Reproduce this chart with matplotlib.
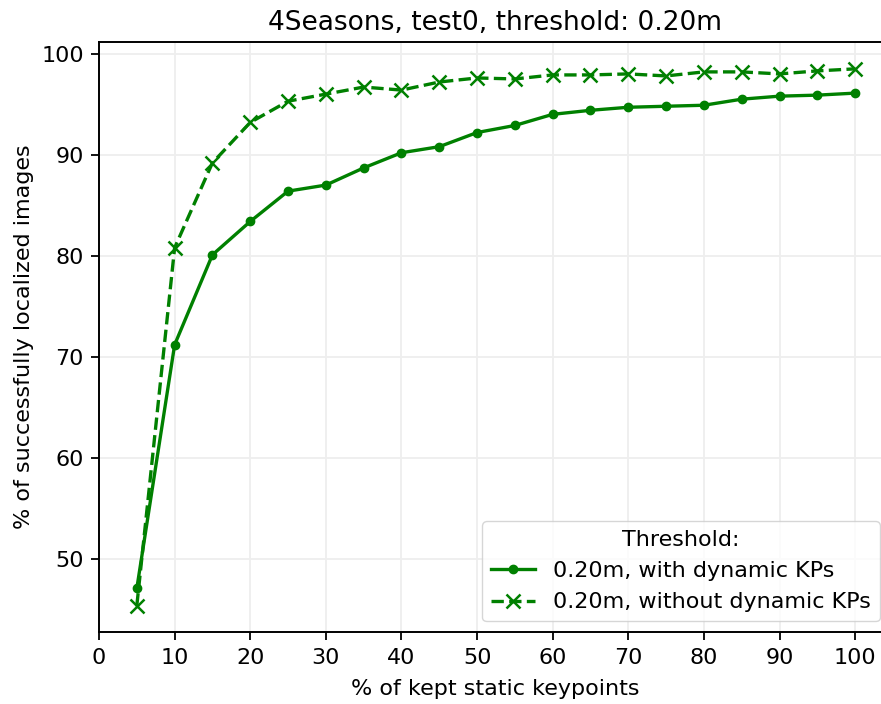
import matplotlib
matplotlib.use('Agg')
import matplotlib.pyplot as plt

# % of kept static keypoints
kept = [5, 10, 15, 20, 25, 30, 35, 40, 45, 50, 55, 60, 65, 70, 75, 80, 85, 90, 95, 100]
# % localized images, 0.20m threshold
with_dyn = [47.1, 71.2, 80.1, 83.4, 86.4, 87.0, 88.7, 90.2, 90.8, 92.2, 92.9,
            94.0, 94.4, 94.7, 94.8, 94.9, 95.5, 95.8, 95.9, 96.1]
without_dyn = [45.4, 80.8, 89.2, 93.2, 95.3, 96.0, 96.7, 96.4, 97.2, 97.6, 97.5,
               97.9, 97.9, 98.0, 97.8, 98.2, 98.2, 98.0, 98.3, 98.5]

fig = plt.figure(figsize=(8.81, 7.04), dpi=100)
ax = fig.add_axes([0.1124, 0.1018, 0.899, 0.8385])

ax.plot(kept, with_dyn, color='green', linestyle='-', marker='o', lw=2.4,
        markersize=6, label='0.20m, with dynamic KPs')
ax.plot(kept, without_dyn, color='green', linestyle='--', marker='x', lw=2.4,
        markersize=10, markeredgewidth=1.8, label='0.20m, without dynamic KPs')

ax.set_xlim(0, 104.75)
ax.set_xticks(range(0, 101, 10))
ax.grid(True, color='#eeeeee', lw=1.3)
ax.set_axisbelow(True)
ax.tick_params(labelsize=16, width=1.3, length=6, pad=5)
for s in ax.spines.values():
    s.set_linewidth(1.4)

ax.set_xlabel('% of kept static keypoints', fontsize=16, labelpad=8)
ax.set_ylabel('% of successfully localized images', fontsize=16, labelpad=5)
ax.set_title('4Seasons, test0, threshold: 0.20m', fontsize=19, pad=9)
ax.legend(title='Threshold:', loc='lower right', fontsize=16, title_fontsize=16)

fig.savefig('out.png', dpi=100)
